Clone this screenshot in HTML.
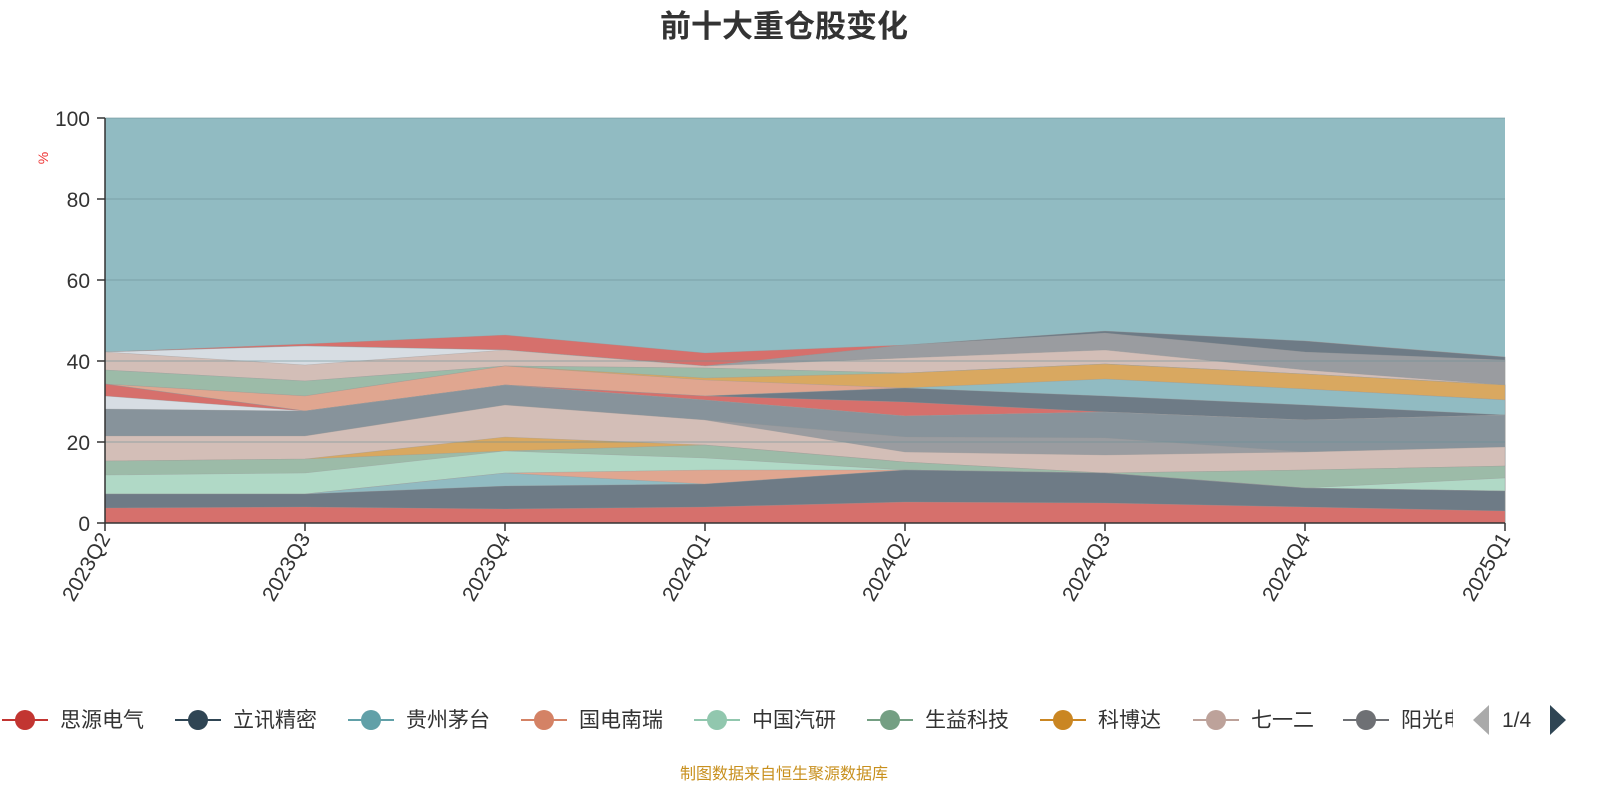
<!DOCTYPE html>
<html><head><meta charset="utf-8"><style>body{margin:0;background:#fff}svg{display:block}</style></head><body>
<svg width="1600" height="800" xmlns="http://www.w3.org/2000/svg" font-family="Liberation Sans, Noto Sans CJK SC, sans-serif">
<text x="784" y="37" text-anchor="middle" font-size="31" font-weight="bold" fill="#333">前十大重仓股变化</text>
<text x="48" y="158" font-size="14" fill="#e33" transform="rotate(-90 48 158)" text-anchor="middle">%</text>
<rect x="105" y="118" width="1400" height="405" fill="#91bbc2"/>
<g id="layers" stroke="#999" stroke-width="0.6" stroke-opacity="0.5"></g>
<g stroke="#6a8f96" stroke-opacity="0.6"><line x1="105" x2="1505" y1="199" y2="199"/><line x1="105" x2="1505" y1="280" y2="280"/><line x1="105" x2="1505" y1="361" y2="361"/><line x1="105" x2="1505" y1="442" y2="442"/><line x1="105" x2="1505" y1="118" y2="118"/></g>
<g stroke="#333" stroke-width="1.5"><line x1="105" y1="118" x2="105" y2="523"/><line x1="105" y1="523" x2="1505" y2="523"/>
<line x1="97" x2="105" y1="118" y2="118"/><line x1="97" x2="105" y1="199" y2="199"/><line x1="97" x2="105" y1="280" y2="280"/><line x1="97" x2="105" y1="361" y2="361"/><line x1="97" x2="105" y1="442" y2="442"/><line x1="97" x2="105" y1="523" y2="523"/>
<line x1="105" x2="105" y1="523" y2="531"/><line x1="305" x2="305" y1="523" y2="531"/><line x1="505" x2="505" y1="523" y2="531"/><line x1="705" x2="705" y1="523" y2="531"/><line x1="905" x2="905" y1="523" y2="531"/><line x1="1105" x2="1105" y1="523" y2="531"/><line x1="1305" x2="1305" y1="523" y2="531"/><line x1="1505" x2="1505" y1="523" y2="531"/></g>
<g font-size="21" fill="#333" text-anchor="end"><text x="90" y="126">100</text><text x="90" y="207">80</text><text x="90" y="288">60</text><text x="90" y="369">40</text><text x="90" y="450">20</text><text x="90" y="531">0</text></g>
<g id="xl" font-size="21" fill="#333" text-anchor="end"></g>
<g font-size="21" fill="#333">
<line x1="2" x2="48" y1="720" y2="720" stroke="#c23531" stroke-width="2"/><circle cx="25" cy="720" r="10" fill="#c23531"/><text x="60" y="727">思源电气</text>
<line x1="175" x2="221" y1="720" y2="720" stroke="#2f4554" stroke-width="2"/><circle cx="198" cy="720" r="10" fill="#2f4554"/><text x="233" y="727">立讯精密</text>
<line x1="348" x2="394" y1="720" y2="720" stroke="#61a0a8" stroke-width="2"/><circle cx="371" cy="720" r="10" fill="#61a0a8"/><text x="406" y="727">贵州茅台</text>
<line x1="521" x2="567" y1="720" y2="720" stroke="#d48265" stroke-width="2"/><circle cx="544" cy="720" r="10" fill="#d48265"/><text x="579" y="727">国电南瑞</text>
<line x1="694" x2="740" y1="720" y2="720" stroke="#91c7ae" stroke-width="2"/><circle cx="717" cy="720" r="10" fill="#91c7ae"/><text x="752" y="727">中国汽研</text>
<line x1="867" x2="913" y1="720" y2="720" stroke="#749f83" stroke-width="2"/><circle cx="890" cy="720" r="10" fill="#749f83"/><text x="925" y="727">生益科技</text>
<line x1="1040" x2="1086" y1="720" y2="720" stroke="#ca8622" stroke-width="2"/><circle cx="1063" cy="720" r="10" fill="#ca8622"/><text x="1098" y="727">科博达</text>
<line x1="1193" x2="1239" y1="720" y2="720" stroke="#bda29a" stroke-width="2"/><circle cx="1216" cy="720" r="10" fill="#bda29a"/><text x="1251" y="727">七一二</text>
<line x1="1343" x2="1389" y1="720" y2="720" stroke="#6e7074" stroke-width="2"/><circle cx="1366" cy="720" r="10" fill="#6e7074"/>
<svg x="1401" y="700" width="52" height="40"><text x="0" y="27">阳光电源</text></svg>
<polygon points="1473,720 1489,705 1489,735" fill="#aaa"/><text x="1502" y="727">1/4</text><polygon points="1566,720 1550,705 1550,735" fill="#2f4554"/>
</g>
<text x="784" y="779" text-anchor="middle" font-size="16" fill="#c8901e">制图数据来自恒生聚源数据库</text>
<script>
var X=[105,305,505,705,905,1105,1305,1505];
var L=[
["#d6706c",[352,344,335,353,345,338,341,357]],
["#6e7b86",[352,346,350,366,345,331,341,357]],
["#9a9ca0",[352,346,350,366,345,333,352,360]],
["#d7dde3",[352,346,350,366,358,350,370,385]],
["#d3beb7",[352,365,350,366,358,350,370,385]],
["#b0d9c6",[370,381,366,368,373,364,374,385]],
["#9cbba8",[370,381,366,368,373,364,374,385]],
["#d9a860",[384,396,366,378,373,364,374,385]],
["#e0a690",[384,396,366,380,388,388,389,400]],
["#91bbc2",[384,411,385,396,388,379,389,400]],
["#6e7b86",[384,411,385,396,388,396,405,415]],
["#d6706c",[384,411,385,396,402,412,420,415]],
["#d7dde3",[396,411,385,400,416,412,420,415]],
["#87939b",[409,411,385,400,416,412,420,415]],
["#9a9ca0",[436,436,405,420,437,438,452,447]],
["#d3beb7",[436,436,405,420,452,455,452,447]],
["#d9a860",[461,459,437,445,462,473,470,466]],
["#9cbba8",[461,459,451,445,462,473,470,466]],
["#b0d9c6",[475,473,451,458,470,473,488,478]],
["#e0a690",[494,494,473,470,470,473,488,491]],
["#91bbc2",[494,494,473,484,470,473,488,491]],
["#6e7b86",[494,494,486,484,470,473,488,491]],
["#d6706c",[508,507,509,507,502,503,507,511]]];
var g=document.getElementById("layers"),ns="http://www.w3.org/2000/svg";
L.forEach(function(l){var p=X.map(function(x,i){return x+","+l[1][i]}).join(" ")+" 1505,523 105,523";var e=document.createElementNS(ns,"polygon");e.setAttribute("points",p);e.setAttribute("fill",l[0]);g.appendChild(e);});
var n=["2023Q2","2023Q3","2023Q4","2024Q1","2024Q2","2024Q3","2024Q4","2025Q1"],xl=document.getElementById("xl");
n.forEach(function(s,i){var t=document.createElementNS(ns,"text");var x=X[i]+6,y=538;t.setAttribute("x",x);t.setAttribute("y",y);t.setAttribute("transform","rotate(-60 "+x+" "+y+")");t.textContent=s;xl.appendChild(t);});
</script>
</svg>
</body></html>
